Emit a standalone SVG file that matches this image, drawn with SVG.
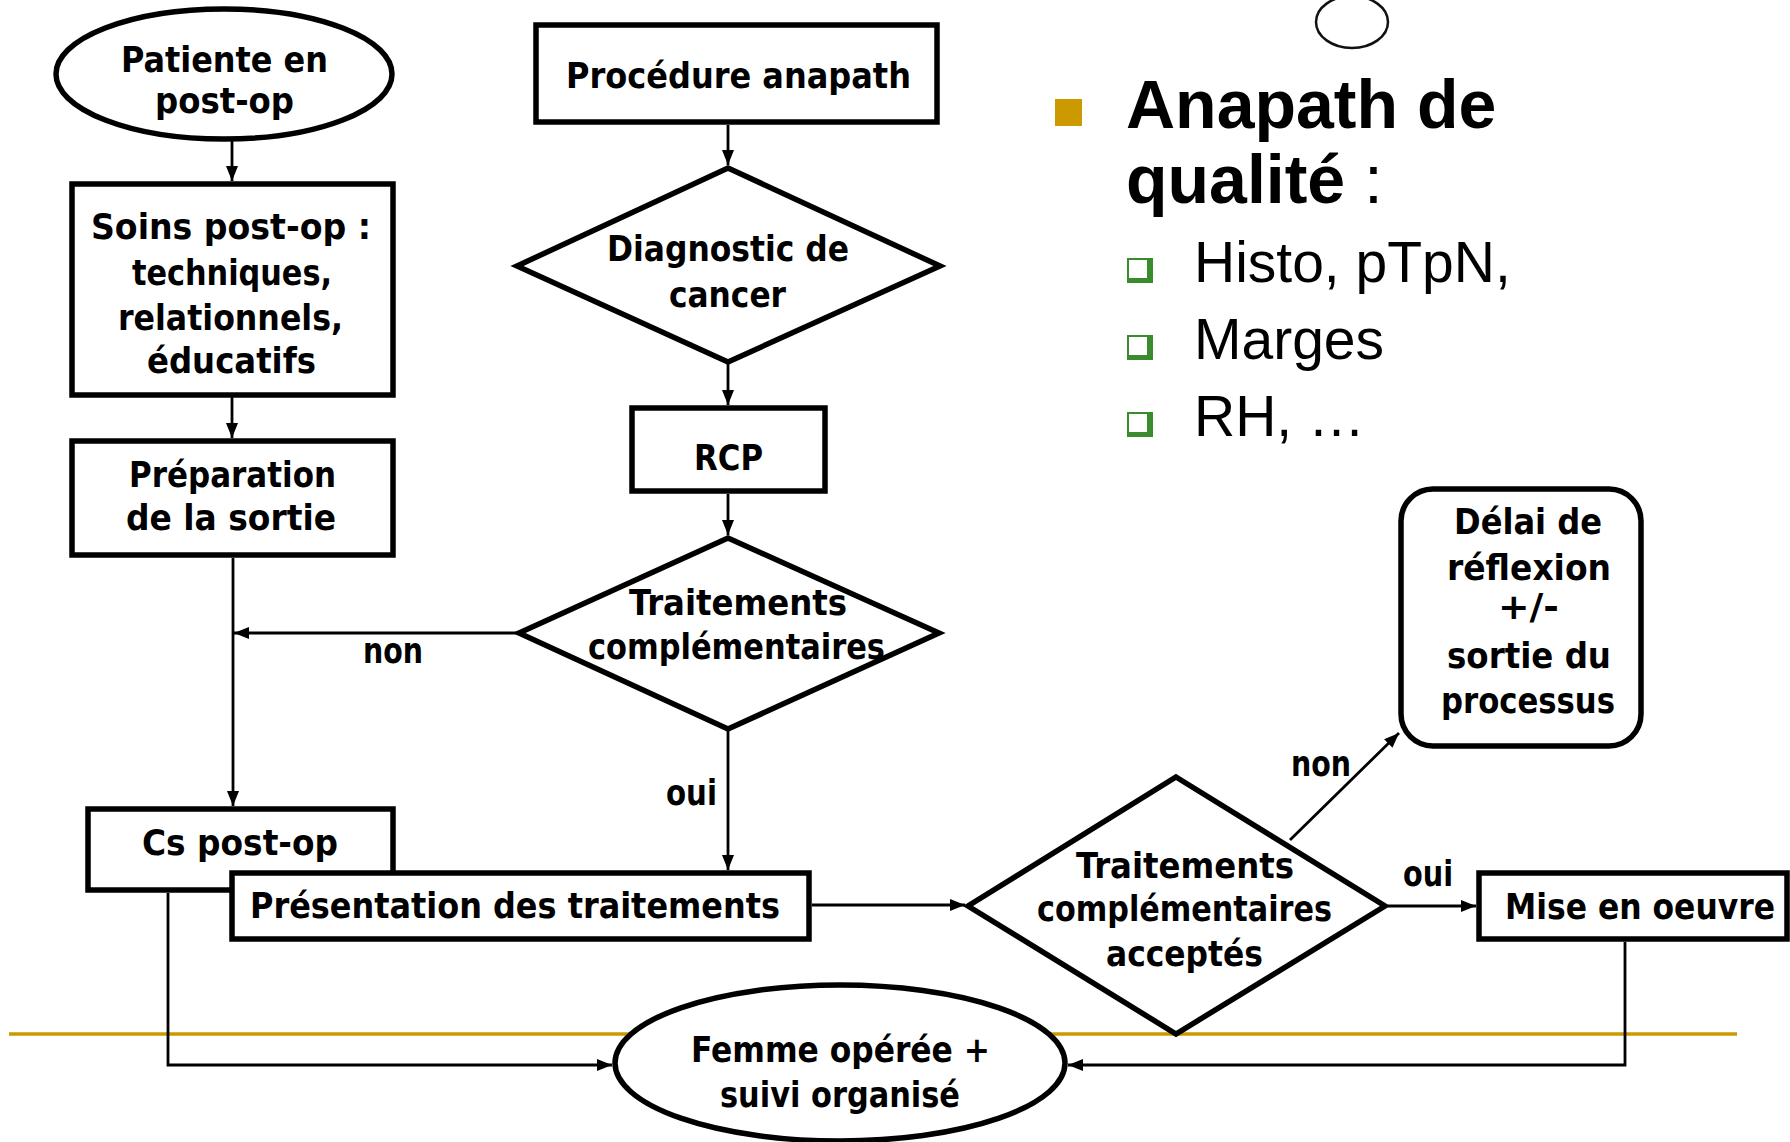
<svg xmlns="http://www.w3.org/2000/svg" width="1790" height="1142" viewBox="0 0 1790 1142">
<style>
.sh{fill:#fff;stroke:#000;stroke-width:5.5;stroke-linejoin:miter}
.t{font-family:"DejaVu Sans Condensed","DejaVu Sans",sans-serif;font-weight:bold;font-size:35px;fill:#000}
.c{fill:none;stroke:#000;stroke-width:2.8}
.h1{font-family:"Liberation Sans",Arial,sans-serif;font-weight:bold;font-size:68px;fill:#000}
.h2{font-family:"Liberation Sans",Arial,sans-serif;font-size:57px;fill:#000}
</style>
<defs>
<marker id="ah" viewBox="0 0 15 12" refX="15" refY="6" markerWidth="15" markerHeight="12" markerUnits="userSpaceOnUse" orient="auto">
<path d="M0,0 L15,6 L0,12 z" fill="#000"/>
</marker>
</defs>
<rect width="1790" height="1142" fill="#fff"/>
<line x1="9" y1="1034" x2="1737" y2="1034" stroke="#CC9900" stroke-width="3.5"/>
<ellipse cx="1352" cy="22" rx="36" ry="26" fill="#fff" stroke="#111" stroke-width="2.5"/>
<g id="bullets">
<rect x="1055" y="99" width="27" height="27" fill="#CC9900"/>
<text class="h1" x="1126" y="128">Anapath de</text>
<text class="h1" x="1126" y="203">qualité<tspan font-weight="normal"> :</tspan></text>
<rect x="1127" y="258" width="26" height="25" fill="#3A8A2E"/><rect x="1129" y="260" width="18" height="18" fill="#fff"/>
<text class="h2" x="1194" y="282">Histo, pTpN,</text>
<rect x="1127" y="335" width="26" height="25" fill="#3A8A2E"/><rect x="1129" y="337" width="18" height="18" fill="#fff"/>
<text class="h2" x="1194" y="359">Marges</text>
<rect x="1127" y="412" width="26" height="25" fill="#3A8A2E"/><rect x="1129" y="414" width="18" height="18" fill="#fff"/>
<text class="h2" x="1194" y="436">RH, …</text>
</g>
<g id="patiente">
<ellipse class="sh" cx="224" cy="74" rx="168" ry="65"/>
<text class="t" x="121" y="72" textLength="207" lengthAdjust="spacingAndGlyphs">Patiente en</text>
<text class="t" x="155" y="113" textLength="139" lengthAdjust="spacingAndGlyphs">post-op</text>
</g>
<g id="soins">
<rect class="sh" x="72" y="184" width="321" height="211"/>
<text class="t" x="91" y="239" textLength="280" lengthAdjust="spacingAndGlyphs">Soins post-op :</text>
<text class="t" x="132" y="285" textLength="200" lengthAdjust="spacingAndGlyphs">techniques,</text>
<text class="t" x="118" y="330" textLength="225" lengthAdjust="spacingAndGlyphs">relationnels,</text>
<text class="t" x="147" y="373" textLength="169" lengthAdjust="spacingAndGlyphs">éducatifs</text>
</g>
<g id="preparation">
<rect class="sh" x="72" y="441" width="321" height="114"/>
<text class="t" x="129" y="487" textLength="207" lengthAdjust="spacingAndGlyphs">Préparation</text>
<text class="t" x="126" y="530" textLength="210" lengthAdjust="spacingAndGlyphs">de la sortie</text>
</g>
<g id="procedure">
<rect class="sh" x="536" y="25" width="401" height="97"/>
<text class="t" x="566" y="88" textLength="345" lengthAdjust="spacingAndGlyphs">Procédure anapath</text>
</g>
<g id="diagnostic">
<polygon class="sh" points="728,168 940,266 728,362 517,266"/>
<text class="t" x="607" y="261" textLength="242" lengthAdjust="spacingAndGlyphs">Diagnostic de</text>
<text class="t" x="669" y="307" textLength="117" lengthAdjust="spacingAndGlyphs">cancer</text>
</g>
<g id="rcp">
<rect class="sh" x="632" y="408" width="193" height="83"/>
<text class="t" x="694" y="470" textLength="69" lengthAdjust="spacingAndGlyphs">RCP</text>
</g>
<g id="traitements1">
<polygon class="sh" points="728,538 939,633 728,729 519,633"/>
<text class="t" x="629" y="615" textLength="218" lengthAdjust="spacingAndGlyphs">Traitements</text>
<text class="t" x="588" y="659" textLength="297" lengthAdjust="spacingAndGlyphs">complémentaires</text>
</g>
<g id="cs">
<rect class="sh" x="88" y="809" width="305" height="81"/>
<text class="t" x="142" y="855" textLength="196" lengthAdjust="spacingAndGlyphs">Cs post-op</text>
</g>
<g id="presentation">
<rect class="sh" x="232" y="873" width="577" height="66"/>
<text class="t" x="250" y="918" textLength="530" lengthAdjust="spacingAndGlyphs">Présentation des traitements</text>
</g>
<g id="traitements2">
<polygon class="sh" points="1176,777 1385,906 1176,1034 968,906"/>
<text class="t" x="1076" y="878" textLength="218" lengthAdjust="spacingAndGlyphs">Traitements</text>
<text class="t" x="1037" y="921" textLength="295" lengthAdjust="spacingAndGlyphs">complémentaires</text>
<text class="t" x="1106" y="966" textLength="157" lengthAdjust="spacingAndGlyphs">acceptés</text>
</g>
<g id="delai">
<rect class="sh" x="1401" y="489" width="240" height="257" rx="32" ry="32"/>
<text class="t" x="1454" y="534" textLength="148" lengthAdjust="spacingAndGlyphs">Délai de</text>
<text class="t" x="1447" y="580" textLength="164" lengthAdjust="spacingAndGlyphs">réflexion</text>
<text class="t" x="1498" y="619" textLength="61" lengthAdjust="spacingAndGlyphs">+/-</text>
<text class="t" x="1447" y="668" textLength="164" lengthAdjust="spacingAndGlyphs">sortie du</text>
<text class="t" x="1441" y="713" textLength="174" lengthAdjust="spacingAndGlyphs">processus</text>
</g>
<g id="mise">
<rect class="sh" x="1479" y="873" width="308" height="66"/>
<text class="t" x="1505" y="919" textLength="270" lengthAdjust="spacingAndGlyphs">Mise en oeuvre</text>
</g>
<g id="femme">
<ellipse class="sh" cx="840" cy="1063" rx="225" ry="78"/>
<text class="t" x="691" y="1062" textLength="299" lengthAdjust="spacingAndGlyphs">Femme opérée +</text>
<text class="t" x="720" y="1107" textLength="240" lengthAdjust="spacingAndGlyphs">suivi organisé</text>
</g>
<g id="connectors">
<path class="c" d="M232,139 V181" marker-end="url(#ah)"/>
<path class="c" d="M232,397 V438" marker-end="url(#ah)"/>
<path class="c" d="M233,558 V806" marker-end="url(#ah)"/>
<path class="c" d="M519,633 H234" marker-end="url(#ah)"/>
<path class="c" d="M728,125 V165" marker-end="url(#ah)"/>
<path class="c" d="M728,364 V405" marker-end="url(#ah)"/>
<path class="c" d="M728,494 V535" marker-end="url(#ah)"/>
<path class="c" d="M728,731 V870" marker-end="url(#ah)"/>
<path class="c" d="M812,905 H965" marker-end="url(#ah)"/>
<path class="c" d="M1290,840 L1399,733" marker-end="url(#ah)"/>
<path class="c" d="M1388,906 H1476" marker-end="url(#ah)"/>
<path class="c" d="M168,893 V1065 H612" marker-end="url(#ah)"/>
<path class="c" d="M1625,942 V1065 H1068" marker-end="url(#ah)"/>
<text class="t" x="363" y="663" textLength="60" lengthAdjust="spacingAndGlyphs">non</text>
<text class="t" x="666" y="805" textLength="51" lengthAdjust="spacingAndGlyphs">oui</text>
<text class="t" x="1291" y="776" textLength="60" lengthAdjust="spacingAndGlyphs">non</text>
<text class="t" x="1403" y="886" textLength="50" lengthAdjust="spacingAndGlyphs">oui</text>
</g>
</svg>
